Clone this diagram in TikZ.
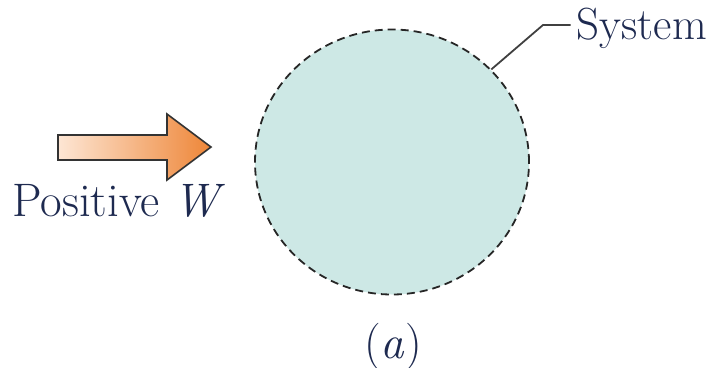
\documentclass[tikz,border=0pt]{standalone}
\usetikzlibrary{shapes.geometric}
\definecolor{sysfill}{HTML}{CDE8E5}
\definecolor{arrowlight}{HTML}{FDE6D4}
\definecolor{arrowdark}{HTML}{EE8638}
\definecolor{txtblue}{HTML}{1E2A50}
\begin{document}
\begin{tikzpicture}[x=1pt,y=-1pt,
  lbl/.style={font=\fontsize{47}{52}\selectfont, text=txtblue, inner sep=0pt},
  sysbox/.style={ellipse, draw=black!85, fill=sysfill, line width=1.8pt,
    dash pattern=on 8pt off 5pt, minimum width=274pt, minimum height=265pt, inner sep=0pt},
  leader/.style={draw=black!75, line width=1.8pt}]
\useasboundingbox (0,0) rectangle (714,367);
\node[sysbox] (sys) at (392,162) {};
% arrow
\path[left color=arrowlight, right color=arrowdark, draw=black!80, line width=1.6pt, line join=miter]
  (58,135) -- (167,135) -- (167,114) -- (211,147) -- (167,180) -- (167,160) -- (58,160) -- cycle;
\node[lbl, anchor=base] (pos) at (119,216) {Positive \textit{W}};
\node[lbl, font=\fontsize{45}{50}\selectfont, anchor=base east] (syslbl) at (707,39) {System};
\coordinate (bend) at (543,25);
\draw[leader] (sys.43) -- (bend) -- ([xshift=-6pt]syslbl.west |- bend);
\node[lbl, anchor=base] (cap) at (393,358) {(\textit{a})};
\end{tikzpicture}
\end{document}
